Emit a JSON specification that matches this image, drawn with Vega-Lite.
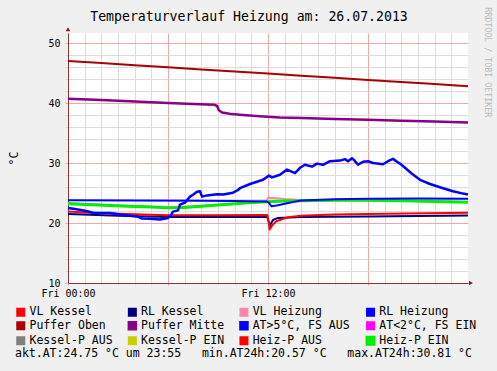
{
  "$schema": "https://vega.github.io/schema/vega-lite/v6.json",
  "width": 400,
  "height": 250,
  "autosize": {"type": "none"},
  "padding": {"left": 68, "top": 33, "right": 29, "bottom": 88},
  "background": "#F0F0F0",
  "config": {"view": {"stroke": null, "fill": "#FFFFFF"}, "font": "DejaVu Sans Mono"},
  "title": {"text": "Temperaturverlauf Heizung am: 26.07.2013", "font": "DejaVu Sans Mono", "fontSize": 13.2, "fontWeight": "normal", "color": "#000000", "anchor": "middle", "dx": -19, "dy": 38, "offset": 11, "baseline": "alphabetic"},
  "datasets": {
    "lines": [
      {"s": "VL Heizung", "h": 0, "v": 23.35}, {"s": "VL Heizung", "h": 3, "v": 22.9}, {"s": "VL Heizung", "h": 6, "v": 22.6}, {"s": "VL Heizung", "h": 9, "v": 23.0}, {"s": "VL Heizung", "h": 11.9, "v": 23.6}, {"s": "VL Heizung", "h": 12.0, "v": 24.2}, {"s": "VL Heizung", "h": 12.4, "v": 24.15}, {"s": "VL Heizung", "h": 13, "v": 24.0}, {"s": "VL Heizung", "h": 14, "v": 23.85}, {"s": "VL Heizung", "h": 16, "v": 23.85}, {"s": "VL Heizung", "h": 20, "v": 23.7}, {"s": "VL Heizung", "h": 24, "v": 23.5},
      {"s": "Heiz-P EIN", "h": 0, "v": 23.2}, {"s": "Heiz-P EIN", "h": 1, "v": 23.1}, {"s": "Heiz-P EIN", "h": 2.5, "v": 22.9}, {"s": "Heiz-P EIN", "h": 4, "v": 22.75}, {"s": "Heiz-P EIN", "h": 5, "v": 22.65}, {"s": "Heiz-P EIN", "h": 6, "v": 22.55}, {"s": "Heiz-P EIN", "h": 7, "v": 22.6}, {"s": "Heiz-P EIN", "h": 8, "v": 22.8}, {"s": "Heiz-P EIN", "h": 9, "v": 23.0}, {"s": "Heiz-P EIN", "h": 10, "v": 23.2}, {"s": "Heiz-P EIN", "h": 11, "v": 23.4}, {"s": "Heiz-P EIN", "h": 12, "v": 23.55}, {"s": "Heiz-P EIN", "h": 13, "v": 23.65}, {"s": "Heiz-P EIN", "h": 14, "v": 23.7}, {"s": "Heiz-P EIN", "h": 16, "v": 23.8}, {"s": "Heiz-P EIN", "h": 18, "v": 23.8}, {"s": "Heiz-P EIN", "h": 20, "v": 23.7}, {"s": "Heiz-P EIN", "h": 22, "v": 23.6}, {"s": "Heiz-P EIN", "h": 24, "v": 23.45},
      {"s": "RL Heizung", "h": 0, "v": 23.8}, {"s": "RL Heizung", "h": 4, "v": 23.75}, {"s": "RL Heizung", "h": 8, "v": 23.7}, {"s": "RL Heizung", "h": 10, "v": 23.65}, {"s": "RL Heizung", "h": 11.9, "v": 23.6}, {"s": "RL Heizung", "h": 12.05, "v": 23.4}, {"s": "RL Heizung", "h": 12.2, "v": 22.8}, {"s": "RL Heizung", "h": 12.6, "v": 22.95}, {"s": "RL Heizung", "h": 13.0, "v": 23.2}, {"s": "RL Heizung", "h": 13.5, "v": 23.5}, {"s": "RL Heizung", "h": 14, "v": 23.75}, {"s": "RL Heizung", "h": 16, "v": 23.95}, {"s": "RL Heizung", "h": 18, "v": 24.05}, {"s": "RL Heizung", "h": 21, "v": 24.1}, {"s": "RL Heizung", "h": 24, "v": 24.05},
      {"s": "RL Kessel", "h": 0, "v": 21.5}, {"s": "RL Kessel", "h": 3, "v": 21.2}, {"s": "RL Kessel", "h": 6, "v": 21.0}, {"s": "RL Kessel", "h": 9, "v": 21.0}, {"s": "RL Kessel", "h": 11.95, "v": 21.05}, {"s": "RL Kessel", "h": 12.05, "v": 20.2}, {"s": "RL Kessel", "h": 12.12, "v": 19.6}, {"s": "RL Kessel", "h": 12.3, "v": 20.5}, {"s": "RL Kessel", "h": 12.6, "v": 20.85}, {"s": "RL Kessel", "h": 14, "v": 21.0}, {"s": "RL Kessel", "h": 18, "v": 21.1}, {"s": "RL Kessel", "h": 24, "v": 21.25},
      {"s": "VL Kessel", "h": 0, "v": 21.9}, {"s": "VL Kessel", "h": 1, "v": 21.75}, {"s": "VL Kessel", "h": 3, "v": 21.55}, {"s": "VL Kessel", "h": 6, "v": 21.3}, {"s": "VL Kessel", "h": 9, "v": 21.3}, {"s": "VL Kessel", "h": 11.95, "v": 21.35}, {"s": "VL Kessel", "h": 12.05, "v": 20.0}, {"s": "VL Kessel", "h": 12.1, "v": 18.9}, {"s": "VL Kessel", "h": 12.25, "v": 19.6}, {"s": "VL Kessel", "h": 12.5, "v": 20.3}, {"s": "VL Kessel", "h": 13, "v": 20.8}, {"s": "VL Kessel", "h": 13.3, "v": 21.0}, {"s": "VL Kessel", "h": 14, "v": 21.2}, {"s": "VL Kessel", "h": 16, "v": 21.4}, {"s": "VL Kessel", "h": 19, "v": 21.55}, {"s": "VL Kessel", "h": 24, "v": 21.7},
      {"s": "Puffer Oben", "h": 0, "v": 47.0}, {"s": "Puffer Oben", "h": 2, "v": 46.65}, {"s": "Puffer Oben", "h": 4, "v": 46.3}, {"s": "Puffer Oben", "h": 6, "v": 45.95}, {"s": "Puffer Oben", "h": 8, "v": 45.6}, {"s": "Puffer Oben", "h": 10, "v": 45.25}, {"s": "Puffer Oben", "h": 12, "v": 44.9}, {"s": "Puffer Oben", "h": 14, "v": 44.55}, {"s": "Puffer Oben", "h": 16, "v": 44.2}, {"s": "Puffer Oben", "h": 18, "v": 43.85}, {"s": "Puffer Oben", "h": 20, "v": 43.5}, {"s": "Puffer Oben", "h": 22, "v": 43.15}, {"s": "Puffer Oben", "h": 24, "v": 42.8},
      {"s": "Puffer Mitte", "h": 0, "v": 40.7}, {"s": "Puffer Mitte", "h": 2, "v": 40.5}, {"s": "Puffer Mitte", "h": 4, "v": 40.25}, {"s": "Puffer Mitte", "h": 6, "v": 40.0}, {"s": "Puffer Mitte", "h": 7.5, "v": 39.85}, {"s": "Puffer Mitte", "h": 8.8, "v": 39.7}, {"s": "Puffer Mitte", "h": 8.95, "v": 39.5}, {"s": "Puffer Mitte", "h": 9.05, "v": 38.8}, {"s": "Puffer Mitte", "h": 9.25, "v": 38.4}, {"s": "Puffer Mitte", "h": 9.7, "v": 38.2}, {"s": "Puffer Mitte", "h": 10.3, "v": 38.05}, {"s": "Puffer Mitte", "h": 11.5, "v": 37.8}, {"s": "Puffer Mitte", "h": 12.7, "v": 37.6}, {"s": "Puffer Mitte", "h": 14, "v": 37.5}, {"s": "Puffer Mitte", "h": 16, "v": 37.35}, {"s": "Puffer Mitte", "h": 18, "v": 37.2}, {"s": "Puffer Mitte", "h": 20, "v": 37.05}, {"s": "Puffer Mitte", "h": 22, "v": 36.9}, {"s": "Puffer Mitte", "h": 24, "v": 36.75},
      {"s": "AT>5°C, FS AUS", "h": 0.0, "v": 22.5}, {"s": "AT>5°C, FS AUS", "h": 0.42, "v": 22.35}, {"s": "AT>5°C, FS AUS", "h": 1.02, "v": 22.05}, {"s": "AT>5°C, FS AUS", "h": 1.5, "v": 21.7}, {"s": "AT>5°C, FS AUS", "h": 2.52, "v": 21.65}, {"s": "AT>5°C, FS AUS", "h": 3.12, "v": 21.4}, {"s": "AT>5°C, FS AUS", "h": 3.72, "v": 21.2}, {"s": "AT>5°C, FS AUS", "h": 4.14, "v": 21.1}, {"s": "AT>5°C, FS AUS", "h": 4.44, "v": 20.75}, {"s": "AT>5°C, FS AUS", "h": 4.92, "v": 20.7}, {"s": "AT>5°C, FS AUS", "h": 5.52, "v": 20.6}, {"s": "AT>5°C, FS AUS", "h": 6.0, "v": 20.85}, {"s": "AT>5°C, FS AUS", "h": 6.18, "v": 21.3}, {"s": "AT>5°C, FS AUS", "h": 6.3, "v": 21.9}, {"s": "AT>5°C, FS AUS", "h": 6.6, "v": 22.1}, {"s": "AT>5°C, FS AUS", "h": 6.72, "v": 23.05}, {"s": "AT>5°C, FS AUS", "h": 7.02, "v": 23.4}, {"s": "AT>5°C, FS AUS", "h": 7.32, "v": 24.4}, {"s": "AT>5°C, FS AUS", "h": 7.5, "v": 24.7}, {"s": "AT>5°C, FS AUS", "h": 7.74, "v": 25.2}, {"s": "AT>5°C, FS AUS", "h": 7.92, "v": 25.3}, {"s": "AT>5°C, FS AUS", "h": 8.04, "v": 24.4}, {"s": "AT>5°C, FS AUS", "h": 8.34, "v": 24.6}, {"s": "AT>5°C, FS AUS", "h": 8.94, "v": 24.8}, {"s": "AT>5°C, FS AUS", "h": 9.3, "v": 24.75}, {"s": "AT>5°C, FS AUS", "h": 9.9, "v": 25.05}, {"s": "AT>5°C, FS AUS", "h": 10.2, "v": 25.5}, {"s": "AT>5°C, FS AUS", "h": 10.32, "v": 25.8}, {"s": "AT>5°C, FS AUS", "h": 10.92, "v": 26.5}, {"s": "AT>5°C, FS AUS", "h": 11.7, "v": 27.2}, {"s": "AT>5°C, FS AUS", "h": 12.06, "v": 27.9}, {"s": "AT>5°C, FS AUS", "h": 12.24, "v": 27.6}, {"s": "AT>5°C, FS AUS", "h": 12.72, "v": 28.05}, {"s": "AT>5°C, FS AUS", "h": 13.14, "v": 28.9}, {"s": "AT>5°C, FS AUS", "h": 13.62, "v": 28.3}, {"s": "AT>5°C, FS AUS", "h": 13.92, "v": 29.2}, {"s": "AT>5°C, FS AUS", "h": 14.22, "v": 29.7}, {"s": "AT>5°C, FS AUS", "h": 14.64, "v": 29.4}, {"s": "AT>5°C, FS AUS", "h": 14.94, "v": 29.9}, {"s": "AT>5°C, FS AUS", "h": 15.3, "v": 29.7}, {"s": "AT>5°C, FS AUS", "h": 15.72, "v": 30.3}, {"s": "AT>5°C, FS AUS", "h": 16.32, "v": 30.4}, {"s": "AT>5°C, FS AUS", "h": 16.62, "v": 30.65}, {"s": "AT>5°C, FS AUS", "h": 16.8, "v": 30.3}, {"s": "AT>5°C, FS AUS", "h": 17.04, "v": 30.8}, {"s": "AT>5°C, FS AUS", "h": 17.22, "v": 30.3}, {"s": "AT>5°C, FS AUS", "h": 17.4, "v": 29.7}, {"s": "AT>5°C, FS AUS", "h": 17.7, "v": 30.2}, {"s": "AT>5°C, FS AUS", "h": 18.0, "v": 30.3}, {"s": "AT>5°C, FS AUS", "h": 18.3, "v": 30.0}, {"s": "AT>5°C, FS AUS", "h": 18.9, "v": 29.8}, {"s": "AT>5°C, FS AUS", "h": 19.2, "v": 30.3}, {"s": "AT>5°C, FS AUS", "h": 19.5, "v": 30.7}, {"s": "AT>5°C, FS AUS", "h": 19.74, "v": 30.2}, {"s": "AT>5°C, FS AUS", "h": 19.92, "v": 29.9}, {"s": "AT>5°C, FS AUS", "h": 20.22, "v": 29.2}, {"s": "AT>5°C, FS AUS", "h": 20.64, "v": 28.2}, {"s": "AT>5°C, FS AUS", "h": 21.12, "v": 27.2}, {"s": "AT>5°C, FS AUS", "h": 21.72, "v": 26.5}, {"s": "AT>5°C, FS AUS", "h": 22.5, "v": 25.8}, {"s": "AT>5°C, FS AUS", "h": 23.1, "v": 25.3}, {"s": "AT>5°C, FS AUS", "h": 23.7, "v": 24.9}, {"s": "AT>5°C, FS AUS", "h": 24.0, "v": 24.75}
    ],
    "arrows": [
      {"h": 0, "v": 52.3, "shape": "triangle-up"},
      {"h": 24.18, "v": 10, "shape": "triangle-right"}
    ],
    "marks": [
      {"h": 25.16, "v": 46.8, "t": "RRDTOOL / TOBI OETIKER"}
    ]
  },
  "encoding": {
    "x": {
      "field": "h", "type": "quantitative",
      "scale": {"domain": [0, 24], "nice": false, "zero": false},
      "axis": {
        "values": [0,1,2,3,4,5,6,7,8,9,10,11,12,13,14,15,16,17,18,19,20,21,22,23],
        "grid": true,
        "gridColor": {"condition": {"test": "datum.value % 6 === 0", "value": "#F2A8A8"}, "value": "#DCDCDC"},
        "tickColor": {"condition": {"test": "datum.value % 6 === 0", "value": "#F2A8A8"}, "value": "#DCDCDC"},
        "tickSize": 2,
        "labelExpr": "datum.value === 0 ? 'Fri 00:00' : (datum.value === 12 ? 'Fri 12:00' : '')",
        "labelFlush": false, "labelOverlap": false, "labelBound": false,
        "labelFont": "DejaVu Sans Mono", "labelFontSize": 10, "labelColor": "#000000", "labelPadding": 3,
        "domainColor": "#883333", "title": null
      }
    },
    "y": {
      "field": "v", "type": "quantitative",
      "scale": {"domain": [10, 51.667], "nice": false, "zero": false},
      "axis": {
        "values": [10,12,14,16,18,20,22,24,26,28,30,32,34,36,38,40,42,44,46,48,50],
        "grid": true,
        "gridColor": {"condition": {"test": "datum.value % 10 === 0", "value": "#F2A8A8"}, "value": "#DCDCDC"},
        "tickColor": {"condition": {"test": "datum.value % 10 === 0", "value": "#F2A8A8"}, "value": "#DCDCDC"},
        "tickSize": 3,
        "labelExpr": "datum.value % 10 === 0 ? datum.label : ''",
        "labelOverlap": false, "labelBound": false, "labelFlush": false,
        "labelFont": "DejaVu Sans Mono", "labelFontSize": 10, "labelColor": "#000000", "labelPadding": 5,
        "domainColor": "#883333",
        "title": "°C", "titleFont": "DejaVu Sans Mono", "titleFontSize": 11.5, "titleFontWeight": "normal", "titleColor": "#000000",
        "titleX": -54, "titleY": 125, "titleAngle": 270, "titleAlign": "center", "titleBaseline": "middle"
      }
    }
  },
  "layer": [
    {
      "data": {"name": "lines"},
      "mark": {"type": "line", "strokeCap": "butt", "strokeJoin": "round"},
      "encoding": {
        "color": {
          "field": "s", "type": "nominal",
          "scale": {
            "domain": ["VL Kessel", "RL Kessel", "VL Heizung", "RL Heizung", "Puffer Oben", "Puffer Mitte", "AT>5°C, FS AUS", "AT<2°C, FS EIN", "Kessel-P AUS", "Kessel-P EIN", "Heiz-P AUS", "Heiz-P EIN"],
            "range": ["#FF0000", "#000080", "#FF88AA", "#0000FF", "#AA0000", "#880088", "#0000FF", "#FF00FF", "#808080", "#CCCC00", "#FF0000", "#00EE00"]
          },
          "legend": {
            "orient": "none", "legendX": -53, "legendY": 273, "columns": 4, "direction": "horizontal",
            "symbolType": "square", "symbolSize": 49, "symbolStrokeWidth": 1,
            "labelFont": "DejaVu Sans Mono", "labelFontSize": 11.5, "labelColor": "#000000", "labelOffset": 3, "labelLimit": 300,
            "columnPadding": 10.6, "rowPadding": -4, "padding": 0,
            "title": "akt.AT:24.75 °C um 23:55\u00a0\u00a0\u2009min.AT24h:20.57 °C\u00a0\u00a0\u2009max.AT24h:30.81 °C",
            "titleOrient": "bottom", "titleAnchor": "start", "titleFont": "DejaVu Sans Mono", "titleFontSize": 11.5, "titleFontWeight": "normal", "titleColor": "#000000", "titleLimit": 700, "titlePadding": -2,
            "encode": {"symbols": {"update": {"fill": {"scale": "color", "field": "value"}, "stroke": {"value": "#000000"}, "strokeWidth": {"value": 1}, "opacity": {"value": 1}}}}
          }
        },
        "strokeWidth": {
          "field": "s", "type": "nominal",
          "scale": {
            "type": "ordinal",
            "domain": ["VL Kessel", "RL Kessel", "VL Heizung", "RL Heizung", "Puffer Oben", "Puffer Mitte", "AT>5°C, FS AUS", "AT<2°C, FS EIN", "Kessel-P AUS", "Kessel-P EIN", "Heiz-P AUS", "Heiz-P EIN"],
            "range": [2, 2, 2, 2, 2, 2.5, 2.5, 2, 2, 2, 2, 3]
          },
          "legend": null
        }
      }
    },
    {
      "data": {"name": "arrows"},
      "mark": {"type": "point", "filled": true, "color": "#802020", "size": 22, "opacity": 1},
      "encoding": {
        "shape": {"field": "shape", "type": "nominal", "scale": null}
      }
    },
    {
      "data": {"name": "marks"},
      "mark": {"type": "text", "angle": 90, "align": "center", "baseline": "middle", "font": "DejaVu Sans Mono", "fontSize": 8.3, "color": "#BBBBBB"},
      "encoding": {
        "text": {"field": "t"}
      }
    }
  ]
}
